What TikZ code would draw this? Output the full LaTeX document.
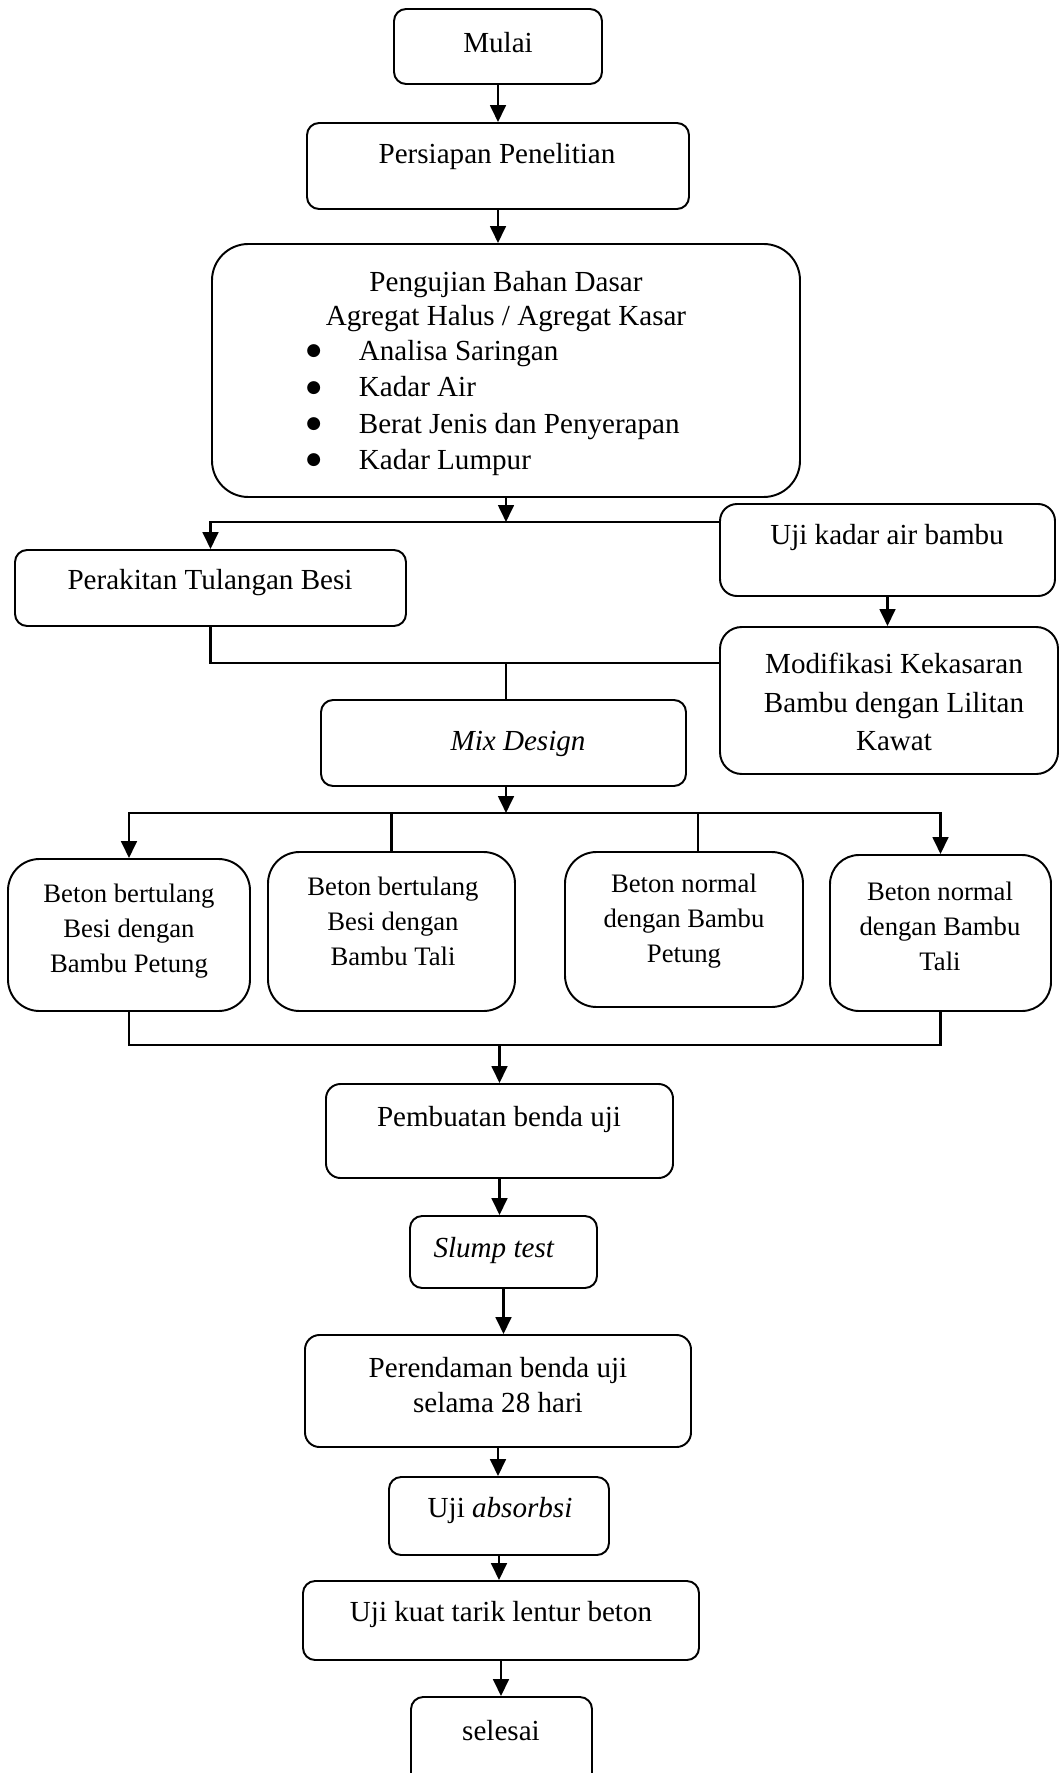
\documentclass[tikz,border=0pt]{standalone}
\usepackage{fontspec}
\setmainfont{Liberation Serif}
\newfontfamily\djv{DejaVu Sans}
\usepackage{tikz}
\usetikzlibrary{arrows.meta, fit}

\begin{document}
\begin{tikzpicture}[x=0.0145cm, y=-0.0145cm]

\tikzset{
  bx/.style={draw=black, line width=0.8pt, rounded corners=5pt, inner sep=0pt},
  txt/.style={inner sep=0pt, align=center, font=\fontsize{12}{15}\selectfont},
  kecil/.style={font=\fontsize{11}{14.4}\selectfont},
  ln/.style={line width=1pt, draw=black, line cap=rect},
  arr/.style={-{Triangle[length=7pt, width=6.5pt]}, line width=1pt, draw=black},
}

\newcommand{\kotak}[5][]{%
  \node[bx, #1, fit={#3}] (#2) {};
  \node[txt, #1] (#2-t) at (#4) {#5};
}
\newcommand{\titik}{\makebox[21.6pt][l]{\raisebox{2pt}{\djv\fontsize{7}{7}\selectfont ●}}}

\useasboundingbox (0,0) rectangle (1060,1773);
\clip (0,0) rectangle (1060,1773);

\kotak{mulai}{(394,9) (602,84)}{498,43}{Mulai}
\kotak{persiapan}{(307,123) (689,209)}{497,157}{Persiapan Penelitian}
\kotak[rounded corners=15pt, font=\fontsize{12}{14}\selectfont]{uji}{(212,244) (800,497)}{506,302}{Pengujian Bahan Dasar\\Agregat Halus / Agregat Kasar}
\node[txt, anchor=west, align=left, font=\fontsize{12}{14.9}\selectfont] (uji-l) at (306,408)
  {\titik Analisa Saringan\\
   \titik Kadar Air\\
   \titik Berat Jenis dan Penyerapan\\
   \titik Kadar Lumpur};
\kotak{rakit}{(15,550) (406,626)}{210,583}{Perakitan Tulangan Besi}
\kotak[rounded corners=7pt]{kadar}{(720,504) (1055,596)}{887,538}{Uji kadar air bambu}
\kotak[rounded corners=9pt, font=\fontsize{12}{15.9}\selectfont]{modif}{(720,627) (1058,774)}{894,702}{Modifikasi Kekasaran\\Bambu dengan Lilitan\\Kawat}
\kotak{mix}{(321,700) (686,786)}{518,744}{\textit{Mix Design}}
\kotak[rounded corners=13pt, kecil]{b1}{(8,859) (250,1011)}{129,931}{Beton bertulang\\Besi dengan\\Bambu Petung}
\kotak[rounded corners=13pt, kecil]{b2}{(268,852) (515,1011)}{393,921}{Beton bertulang\\Besi dengan\\Bambu Tali}
\kotak[rounded corners=13pt, kecil]{b3}{(565,852) (803,1007)}{684,921}{Beton normal\\dengan Bambu\\Petung}
\kotak[rounded corners=12pt, kecil]{b4}{(830,855) (1051,1011)}{940,926}{Beton normal\\dengan Bambu\\Tali}
\kotak[rounded corners=6pt]{buat}{(326,1084) (673,1178)}{499,1119}{Pembuatan benda uji}
\kotak{slump}{(410,1216) (597,1288)}{494,1250}{\textit{Slump test}}
\kotak[rounded corners=6pt, font=\fontsize{12}{14.4}\selectfont]{rendam}{(305,1335) (691,1447)}{498,1385}{Perendaman benda uji\\selama 28 hari}
\kotak{serap}{(389,1477) (609,1555)}{500,1510}{Uji \textit{absorbsi}}
\kotak{kuat}{(303,1581) (699,1660)}{501,1614}{Uji kuat tarik lentur beton}
\kotak{selesai}{(411,1697) (592,1800)}{501,1731}{selesai}

\coordinate (c1) at (507,522);
\coordinate (c2) at (506,663);
\coordinate (c3) at (506,813);
\coordinate (c4) at (500,1045);
\coordinate (b3top) at ([xshift=5.8pt]b3.north);

\draw[arr] (mulai.south) -- (mulai.south |- persiapan.north);
\draw[arr] (persiapan.south) -- (persiapan.south |- uji.north);
\draw[arr] (uji.south) -- (uji.south |- c1);
\draw[ln] (rakit.north |- c1) -- (c1 -| kadar.west);
\draw[arr] (rakit.north |- c1) -- (rakit.north);
\draw[arr] (kadar.south) -- (kadar.south |- modif.north);
\draw[ln] (rakit.south) |- (c2 -| modif.west);
\draw[ln] (c2) -- (c2 |- mix.north);
\draw[arr] (c3 |- mix.south) -- (c3);
\draw[ln] (c3 -| b1.north) -- (c3 -| b4.north);
\draw[arr] (c3 -| b1.north) -- (b1.north);
\draw[ln] (c3 -| b2.north) -- (b2.north);
\draw[ln] (b3top |- c3) -- (b3top);
\draw[arr] (c3 -| b4.north) -- (b4.north);
\draw[ln] (b1.south) |- (c4 -| b4.south) -- (b4.south);
\draw[arr] (buat.north |- c4) -- (buat.north);
\draw[arr] (buat.south) -- (buat.south |- slump.north);
\draw[arr] (slump.south) -- (slump.south |- rendam.north);
\draw[arr] (rendam.south) -- (rendam.south |- serap.north);
\draw[arr] (serap.south) -- (serap.south |- kuat.north);
\draw[arr] (kuat.south) -- (kuat.south |- selesai.north);

\end{tikzpicture}
\end{document}
